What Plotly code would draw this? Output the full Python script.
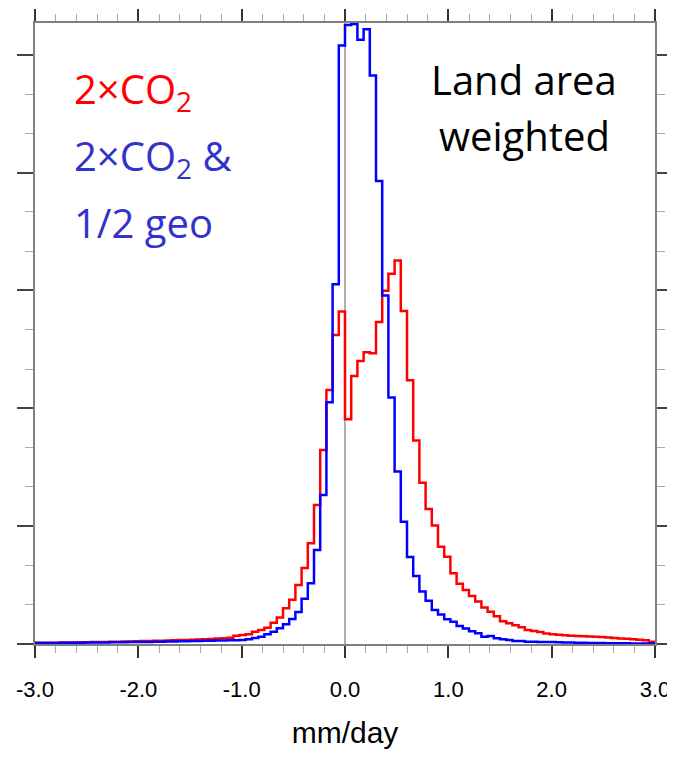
import numpy as np
import plotly.graph_objects as go

# Bin edges: 100 bins of width 0.06 mm/day from -3.0 to 3.0
bin_left = [round(-3.0 + 0.06 * i, 2) for i in range(100)]
bin_right_end = 3.0

# Relative frequency (arbitrary units, one major y tick = 1)
co2 = [0.010, 0.010, 0.011, 0.011, 0.012, 0.012, 0.013, 0.014, 0.015, 0.016,
       0.017, 0.018, 0.019, 0.020, 0.021, 0.022, 0.024, 0.025, 0.026, 0.027,
       0.028, 0.030, 0.031, 0.033, 0.035, 0.036, 0.038, 0.040, 0.043, 0.046,
       0.048, 0.053, 0.070, 0.076, 0.082, 0.104, 0.119, 0.138, 0.181, 0.225,
       0.303, 0.376, 0.501, 0.645, 0.855, 1.180, 1.647, 2.156, 2.623, 2.821,
       1.907, 2.275, 2.402, 2.476, 2.468, 2.733, 2.997, 3.143, 3.254, 2.827,
       2.239, 1.726, 1.368, 1.146, 1.005, 0.825, 0.741, 0.600, 0.511, 0.458,
       0.407, 0.361, 0.309, 0.273, 0.235, 0.194, 0.176, 0.160, 0.143, 0.118,
       0.110, 0.102, 0.089, 0.083, 0.078, 0.074, 0.070, 0.068, 0.065, 0.063,
       0.061, 0.059, 0.055, 0.051, 0.047, 0.044, 0.040, 0.037, 0.031, 0.020]

co2_geo = [0.008, 0.008, 0.009, 0.009, 0.010, 0.010, 0.011, 0.011, 0.012, 0.012,
           0.013, 0.013, 0.014, 0.014, 0.015, 0.016, 0.017, 0.018, 0.018, 0.019,
           0.020, 0.021, 0.022, 0.023, 0.024, 0.025, 0.026, 0.027, 0.028, 0.029,
           0.030, 0.031, 0.032, 0.034, 0.040, 0.051, 0.062, 0.082, 0.104, 0.133,
           0.168, 0.212, 0.272, 0.385, 0.515, 0.798, 1.265, 2.052, 3.053, 5.079,
           5.252, 5.262, 5.127, 5.218, 4.824, 3.930, 2.957, 2.091, 1.463, 1.038,
           0.739, 0.577, 0.446, 0.368, 0.289, 0.250, 0.210, 0.189, 0.153, 0.132,
           0.109, 0.091, 0.062, 0.068, 0.048, 0.040, 0.034, 0.025, 0.025, 0.020,
           0.019, 0.018, 0.017, 0.016, 0.014, 0.013, 0.012, 0.011, 0.010, 0.009,
           0.008, 0.008, 0.007, 0.007, 0.006, 0.006, 0.005, 0.005, 0.004, 0.004]

x_ticks = [-3.0, -2.0, -1.0, 0.0, 1.0, 2.0, 3.0]
x_ticklabels = ["-3.0", "-2.0", "-1.0", "0.0", "1.0", "2.0", "3.0"]

# The page body adds an 8 px margin on every side; keep the figure inside the window.
OFF = 8
W, H = 675 - OFF, 757 - 2 * OFF
L, R, T = 35 - OFF, 20, 23 - OFF
B = H - (644 - OFF)
YMAX = 5.27


def px(xp):
    # page pixel -> paper fraction
    return (xp - OFF - L) / (W - L - R)


def py(yp):
    return 1 - (yp - OFF - T) / (H - T - B)


def steps(vals):
    xs = list(bin_left) + [bin_right_end]
    ys = list(vals) + [vals[-1]]
    return xs, ys


fig = go.Figure()
for vals, col in [(co2, "#ff0000"), (co2_geo, "#0000ff")]:
    xs, ys = steps(vals)
    fig.add_trace(go.Scatter(x=xs, y=ys, mode="lines",
                             line=dict(color=col, width=2.5, shape="hv"),
                             showlegend=False, hoverinfo="skip"))

fig.add_shape(type="line", x0=0, x1=0, y0=0, y1=1, xref="x", yref="paper",
              line=dict(color="#b0b0b0", width=2), layer="below")

axis_common = dict(showline=True, linecolor="#808080", linewidth=2,
                   mirror="allticks", ticks="outside", showgrid=False,
                   zeroline=False, automargin=False)

fig.update_xaxes(range=[-3, 3], tickvals=x_ticks, ticktext=x_ticklabels,
                 ticklen=12, tickwidth=1.5, tickcolor="#333333",
                 tickfont=dict(family="Liberation Sans, Arial", size=22, color="#000"),
                 ticklabelstandoff=13, ticklabeloverflow="allow",
                 minor=dict(dtick=0.2, ticklen=7, tickwidth=1, tickcolor="#aaaaaa", ticks="outside"),
                 title=dict(text="mm/day", font=dict(family="Liberation Sans, Arial", size=30, color="#000"),
                            standoff=22),
                 **axis_common)
fig.update_yaxes(range=[0, YMAX], dtick=1, showticklabels=False,
                 ticklen=16, tickwidth=1.5, tickcolor="#444444",
                 minor=dict(dtick=1/3, ticklen=8, tickwidth=1, tickcolor="#aaaaaa", ticks="outside"),
                 **axis_common)

tfont = "Open Sans, Lato, sans-serif"
ann = [
    ("2×CO<sub>2</sub>", 72, 90, "#ff0000", "left"),
    ("2×CO<sub>2</sub> &amp;", 72, 158, "#3333cc", "left"),
    ("1/2 geo", 72, 222, "#3333cc", "left"),
    ("Land area", 524, 80, "#000000", "center"),
    ("weighted", 524, 135, "#000000", "center"),
]
for text, xp, yp, col, anc in ann:
    fig.add_annotation(text=text, x=px(xp), y=py(yp), xref="paper", yref="paper",
                       xanchor=anc, yanchor="middle", showarrow=False,
                       font=dict(family=tfont, size=40, color=col))

fig.update_layout(width=W, height=H, margin=dict(l=L, r=R, t=T, b=B),
                  plot_bgcolor="white", paper_bgcolor="white")

fig.write_html("out.html")
